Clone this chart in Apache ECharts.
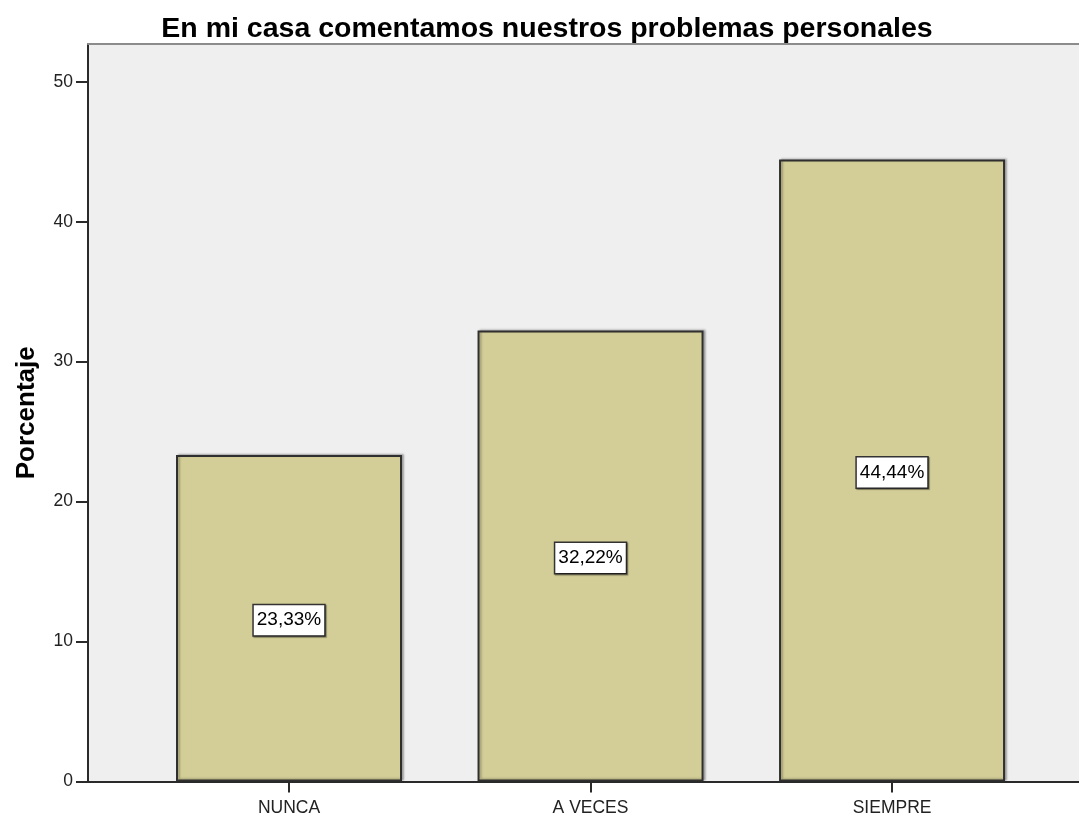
<!DOCTYPE html>
<html>
<head>
<meta charset="utf-8">
<script src="https://cdn.jsdelivr.net/npm/echarts@6/dist/echarts.min.js"></script>
<style>
html,body{margin:0;padding:0;background:#fff;}
#chart{width:1079px;height:815px;}
</style>
</head>
<body>
<div id="chart"></div>
<script>
const title = 'En mi casa comentamos nuestros problemas personales';
const categories = ['NUNCA', 'A VECES', 'SIEMPRE'];
const percentages = [23.33, 32.22, 44.44];
const yTicks = [0, 10, 20, 30, 40, 50];
const yAxisName = 'Porcentaje';

const FONT = '"Liberation Sans", Arial, sans-serif';
const chart = echarts.init(document.getElementById('chart'), null, {renderer: 'canvas'});
const catIdx = categories.map((c, i) => i);
const barData = percentages.map((v, i) => [i, v]);

chart.setOption({
  backgroundColor: '#ffffff',
  animation: false,
  title: {
    text: title,
    left: 542, top: 10, textAlign: 'center',
    textStyle: {fontFamily: FONT, fontWeight: 'bold', fontSize: 28.5, color: '#000'}
  },
  grid: {
    left: 88, right: 0, top: 44, bottom: 33.5,
    show: true, backgroundColor: '#efefef', borderWidth: 0,
    containLabel: false, outerBoundsMode: 'none'
  },
  xAxis: [{
    type: 'value', min: -2/3, max: 2.62,
    splitLine: {show: false},
    axisLine: {show: true, onZero: false, lineStyle: {color: '#2a2a2a', width: 2}},
    axisTick: {show: true, length: 11, customValues: catIdx, lineStyle: {color: '#2a2a2a', width: 2}},
    axisLabel: {
      customValues: catIdx, margin: 18,
      formatter: v => categories[Math.round(v)] || '',
      fontFamily: FONT, fontSize: 17.5, color: '#222'
    }
  }, {
    type: 'value', position: 'top', min: -2/3, max: 2.62,
    splitLine: {show: false},
    axisLine: {show: true, onZero: false, lineStyle: {color: '#8c8c8c', width: 2}},
    axisTick: {show: false}, axisLabel: {show: false}
  }],
  yAxis: {
    type: 'value', min: 0, max: 52.7,
    name: yAxisName, nameLocation: 'middle', nameRotate: 90, nameGap: 48,
    nameTextStyle: {fontFamily: FONT, fontWeight: 'bold', fontSize: 26, color: '#000'},
    splitLine: {show: false},
    axisLine: {show: true, onZero: false, lineStyle: {color: '#2a2a2a', width: 2}},
    axisTick: {show: true, length: 12, customValues: yTicks, lineStyle: {color: '#2a2a2a', width: 2}},
    axisLabel: {customValues: yTicks, margin: 15, fontFamily: FONT, fontSize: 17.5, color: '#222'}
  },
  series: [{
    type: 'bar',
    xAxisIndex: 0,
    data: barData,
    barWidth: 226,
    itemStyle: {color: '#d3ce97', borderColor: '#2f2f2f', borderWidth: 2,
      shadowColor: 'rgba(0,0,0,0.25)', shadowOffsetX: 2, shadowOffsetY: -1, shadowBlur: 2},
    label: {
      show: true, position: 'inside', offset: [0, 2],
      formatter: p => p.value[1].toFixed(2).replace('.', ',') + '%',
      fontFamily: FONT, fontSize: 19, color: '#000',
      backgroundColor: '#fff', borderColor: '#333', borderWidth: 1.5,
      padding: [6, 3, 5, 3],
      shadowColor: 'rgba(0,0,0,0.4)', shadowOffsetX: 1, shadowOffsetY: 1, shadowBlur: 1
    }
  }]
});
</script>
</body>
</html>
